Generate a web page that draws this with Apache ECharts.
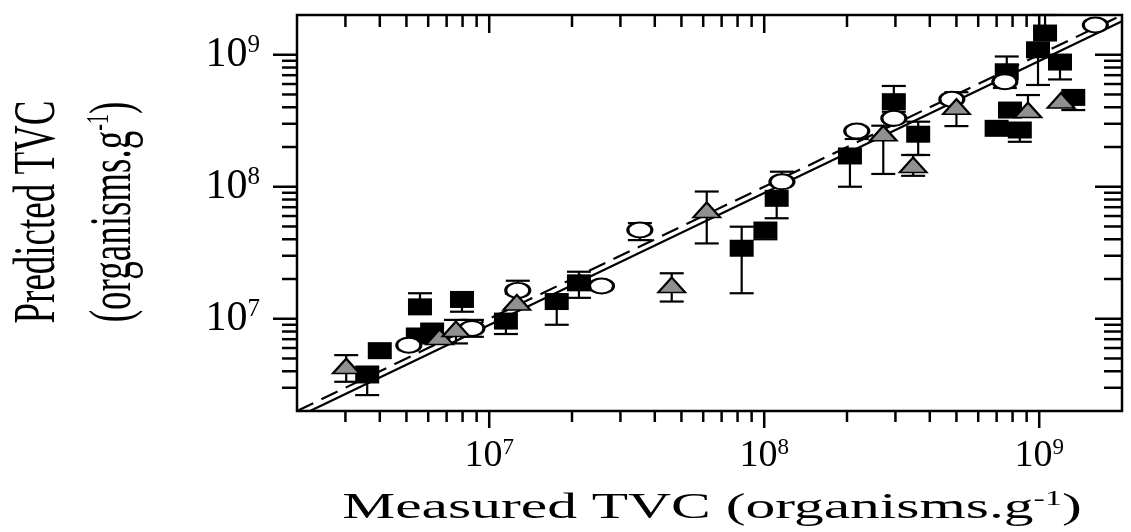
<!DOCTYPE html>
<html>
<head>
<meta charset="utf-8">
<script src="https://cdn.jsdelivr.net/npm/echarts@6/dist/echarts.min.js"></script>
<style>
  html, body { margin: 0; padding: 0; background: #fff; }
  #chart { width: 1131px; height: 532px; }
</style>
</head>
<body>
<div id="chart"></div>
<script>
// axis range (organisms per gram), both axes log10
const axisMin = 2e6;
const axisMax = 2e9;

// filled squares
const squareX  = [3.6e6, 4.0e6, 5.6e6, 7.96e6, 5.5e6, 6.2e6, 1.15e7, 1.76e7, 2.12e7, 8.28e7, 1.01e8, 1.11e8, 2.05e8, 2.96e8, 3.63e8, 7.62e8, 1.05e9, 9.9e8, 1.19e9, 1.33e9, 7.83e8, 7.0e8, 8.5e8];
const squareY  = [3.75e6, 5.73e6, 1.23e7, 1.40e7, 7.4e6, 8.07e6, 9.6e6, 1.35e7, 1.87e7, 3.42e7, 4.7e7, 8.17e7, 1.71e8, 4.41e8, 2.5e8, 7.43e8, 1.46e9, 1.09e9, 8.8e8, 4.75e8, 3.81e8, 2.77e8, 2.69e8];
const squareLo = [2.64e6, null, null, 1.13e7, null, null, 7.66e6, 9.0e6, 1.44e7, 1.56e7, 4.0e7, 5.77e7, 1.0e8, 3.7e8, 1.74e8, null, null, 5.9e8, 6.5e8, 3.81e8, null, null, 2.19e8];
const squareHi = [4.34e6, null, 1.56e7, null, null, null, null, null, 2.27e7, 4.98e7, null, null, null, 5.8e8, 3.11e8, 9.7e8, 2.0e9, null, null, null, null, null, null];

// open circles
const circleX  = [5.1e6, 8.65e6, 1.27e7, 2.56e7, 3.53e7, 1.16e8, 2.17e8, 2.96e8, 4.81e8, 7.5e8, 1.6e9];
const circleY  = [6.3e6, 8.45e6, 1.64e7, 1.77e7, 4.7e7, 1.09e8, 2.64e8, 3.3e8, 4.6e8, 6.25e8, 1.68e9];
const circleLo = [null, 7.3e6, null, null, 3.94e7, null, 2.3e8, null, null, 5.6e8, null];
const circleHi = [null, 9.8e6, 1.94e7, null, 5.3e7, 1.3e8, null, null, null, null, null];

// grey triangles
const triangleX  = [3.02e6, 6.6e6, 7.57e6, 1.26e7, 4.61e7, 6.18e7, 2.71e8, 3.48e8, 5.0e8, 9.1e8, 1.2e9];
const triangleY  = [4.38e6, 7.28e6, 8.36e6, 1.33e7, 1.80e7, 6.67e7, 2.54e8, 1.46e8, 4.04e8, 3.81e8, 4.5e8];
const triangleLo = [3.33e6, null, 6.5e6, 1.2e7, 1.35e7, 3.72e7, 1.25e8, 1.21e8, 2.88e8, null, null];
const triangleHi = [5.3e6, null, 9.8e6, 1.55e7, 2.21e7, 9.2e7, 2.9e8, 1.74e8, 5.2e8, 4.95e8, null];

// reference lines
const unityLine = [[2e6, 2e6], [2e9, 2e9]];
const fitLine = [[2.23e6, 2e6], [2e9, 1.79e9]];

// tick values
const majorTicks = [1e7, 1e8, 1e9];
const minorTicks = [3e6, 4e6, 5e6, 6e6, 7e6, 8e6, 9e6,
  2e7, 3e7, 4e7, 5e7, 6e7, 7e7, 8e7, 9e7,
  2e8, 3e8, 4e8, 5e8, 6e8, 7e8, 8e8, 9e8];

const serif = 'Liberation Serif';

function points(xs, ys) {
  return xs.map((x, i) => [x, ys[i]]);
}

function bars(xs, ys, lo, hi) {
  return xs.map((x, i) => [x, lo[i] == null ? ys[i] : lo[i], hi[i] == null ? ys[i] : hi[i], ys[i]]);
}

const tickData = [];
majorTicks.forEach(v => { tickData.push([v, v, 0, 1]); tickData.push([v, v, 1, 1]); });
minorTicks.forEach(v => { tickData.push([v, v, 0, 0]); tickData.push([v, v, 1, 0]); });

function seg(x1, y1, x2, y2, w) {
  return { type: 'line', shape: { x1, y1, x2, y2 }, style: { stroke: '#000', lineWidth: w || 2.2 } };
}

function renderErrorBar(params, api) {
  const x = api.value(0), lo = api.value(1), hi = api.value(2), y = api.value(3);
  const a = api.coord([x, lo]);
  const b = api.coord([x, hi]);
  const half = 12;
  const children = [seg(a[0], a[1], b[0], b[1])];
  if (lo < y) children.push(seg(a[0] - half, a[1], a[0] + half, a[1]));
  if (hi > y) children.push(seg(b[0] - half, b[1], b[0] + half, b[1]));
  return { type: 'group', children };
}

function renderTick(params, api) {
  const v = api.value(0);
  const onY = api.value(2) === 1;
  const major = api.value(3) === 1;
  if (!onY) {
    const bot = api.coord([v, axisMin]);
    const top = api.coord([v, axisMax]);
    const lb = major ? 17 : 11, lt = major ? 18 : 12;
    return { type: 'group', children: [
      seg(bot[0], bot[1], bot[0], bot[1] + lb, 2.5),
      seg(top[0], top[1], top[0], top[1] + lt, 2.5)
    ] };
  }
  const left = api.coord([axisMin, v]);
  const right = api.coord([axisMax, v]);
  const ll = major ? 24 : 15, lr = major ? 27 : 18;
  return { type: 'group', children: [
    seg(left[0] - ll, left[1], left[0], left[1], 2.5),
    seg(right[0] - lr, right[1], right[0], right[1], 2.5)
  ] };
}

function powLabel(v) {
  const e = Math.log10(v);
  const r = Math.round(e);
  return Math.abs(e - r) < 1e-6 ? '{b|10}{s|' + r + '}' : '';
}

function logAxis(margin, size) {
  return {
    type: 'log',
    logBase: 10,
    min: axisMin,
    max: axisMax,
    axisLine: { show: false },
    axisTick: { show: false },
    splitLine: { show: false },
    axisLabel: {
      margin,
      showMinLabel: false,
      showMaxLabel: false,
      formatter: powLabel,
      rich: {
        b: { fontFamily: serif, fontSize: size, color: '#000', lineHeight: size + 2 },
        s: { fontFamily: serif, fontSize: Math.round(size * 0.6), color: '#000', lineHeight: Math.round(size * 0.6), verticalAlign: 'top' }
      }
    }
  };
}

const chart = echarts.init(document.getElementById('chart'), null, { renderer: 'canvas' });

chart.setOption({
  animation: false,
  backgroundColor: '#fff',
  grid: {
    left: 297, top: 15, right: 9, bottom: 121,
    show: true, borderColor: '#000', borderWidth: 2.5, backgroundColor: 'transparent'
  },
  xAxis: logAxis(25, 38),
  yAxis: logAxis(37, 42),
  graphic: [
    {
      type: 'text', x: 712, y: 509, scaleX: 1.7, z: 10,
      style: {
        text: '{a|Measured TVC (organisms.g}{s|-1}{a|)}',
        align: 'center', verticalAlign: 'middle',
        rich: {
          a: { fontFamily: serif, fontSize: 35, fill: '#000', lineHeight: 38 },
          s: { fontFamily: serif, fontSize: 20, fill: '#000', lineHeight: 20, verticalAlign: 'top' }
        }
      }
    },
    {
      type: 'text', x: 38, y: 212, rotation: Math.PI / 2, scaleY: 1.6, z: 10,
      style: {
        text: 'Predicted TVC',
        align: 'center', verticalAlign: 'middle',
        fontFamily: serif, fontSize: 37, fill: '#000'
      }
    },
    {
      type: 'text', x: 114, y: 212, rotation: Math.PI / 2, scaleY: 1.6, z: 10,
      style: {
        text: '{a|(organisms.g}{s|-1}{a|)}',
        align: 'center', verticalAlign: 'middle',
        rich: {
          a: { fontFamily: serif, fontSize: 37, fill: '#000', lineHeight: 38 },
          s: { fontFamily: serif, fontSize: 20, fill: '#000', lineHeight: 20, verticalAlign: 'top' }
        }
      }
    }
  ],
  series: [
    {
      type: 'custom', name: 'ticks', z: 5, silent: true,
      encode: { x: 0, y: 1 },
      data: tickData,
      renderItem: renderTick
    },
    {
      type: 'line', name: 'unity', z: 1, symbol: 'none', silent: true,
      data: unityLine,
      lineStyle: { color: '#000', width: 2.2, type: [18, 9] }
    },
    {
      type: 'line', name: 'fit', z: 1, symbol: 'none', silent: true,
      data: fitLine,
      lineStyle: { color: '#000', width: 2.2 }
    },
    {
      type: 'custom', z: 2, encode: { x: 0, y: [1, 2] },
      data: bars(squareX, squareY, squareLo, squareHi), renderItem: renderErrorBar
    },
    {
      type: 'custom', z: 2, encode: { x: 0, y: [1, 2] },
      data: bars(circleX, circleY, circleLo, circleHi), renderItem: renderErrorBar
    },
    {
      type: 'custom', z: 2, encode: { x: 0, y: [1, 2] },
      data: bars(triangleX, triangleY, triangleLo, triangleHi), renderItem: renderErrorBar
    },
    {
      type: 'scatter', name: 'squares', z: 3,
      symbol: 'rect', symbolSize: [24, 17],
      itemStyle: { color: '#000', opacity: 1 },
      data: points(squareX, squareY)
    },
    {
      type: 'scatter', name: 'circles', z: 4,
      symbol: 'circle', symbolSize: [24, 15],
      itemStyle: { color: '#fff', borderColor: '#000', borderWidth: 2.5, opacity: 1 },
      data: points(circleX, circleY)
    },
    {
      type: 'scatter', name: 'triangles', z: 4,
      symbol: 'triangle', symbolSize: [27, 15],
      itemStyle: { color: '#909090', borderColor: '#000', borderWidth: 2, opacity: 1 },
      data: points(triangleX, triangleY)
    }
  ]
});
</script>
</body>
</html>
